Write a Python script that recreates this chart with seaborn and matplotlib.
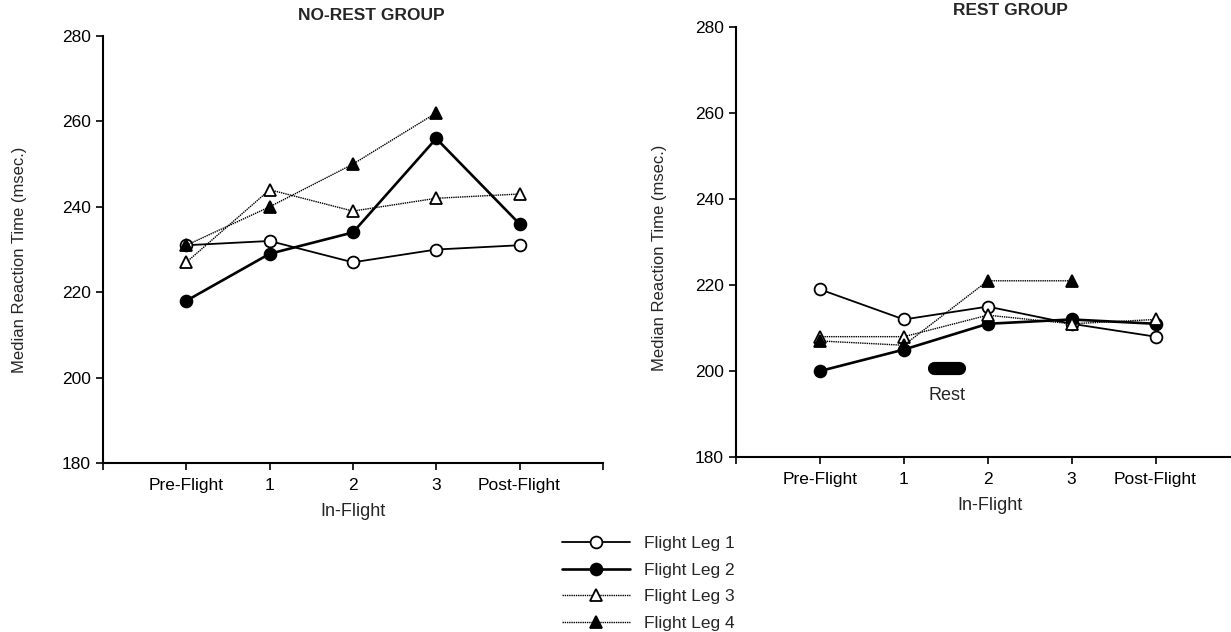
import matplotlib
matplotlib.use("Agg")
import matplotlib.pyplot as plt
import seaborn as sns
import numpy as np
import pandas as pd

# data
phases = ["Pre-Flight", "1", "2", "3", "Post-Flight"]
legs = ["Flight Leg 1", "Flight Leg 2", "Flight Leg 3", "Flight Leg 4"]

no_rest_leg1 = [231, 232, 227, 230, 231]
no_rest_leg2 = [218, 229, 234, 256, 236]
no_rest_leg3 = [227, 244, 239, 242, 243]
no_rest_leg4 = [231, 240, 250, 262, np.nan]

rest_leg1 = [219, 212, 215, 211, 208]
rest_leg2 = [200, 205, 211, 212, 211]
rest_leg3 = [208, 208, 213, 211, 212]
rest_leg4 = [207, 206, 221, 221, np.nan]

rest_period = [1.36, 1.66]
rest_level = 200.6

yticks = [180, 200, 220, 240, 260, 280]


def to_frame(series):
    rows = []
    for leg, vals in zip(legs, series):
        for i, v in enumerate(vals):
            rows.append({"leg": leg, "pos": i, "rt": v})
    return pd.DataFrame(rows)


styles = {
    "Flight Leg 1": dict(marker="o", mfc="white", ls="-", lw=1.3),
    "Flight Leg 2": dict(marker="o", mfc="black", ls="-", lw=1.9),
    "Flight Leg 3": dict(marker="^", mfc="white", ls=(0, (1, 0.6)), lw=1.0),
    "Flight Leg 4": dict(marker="^", mfc="black", ls=(0, (1, 0.6)), lw=1.0),
}

sns.set_style("ticks")
plt.rcParams["font.family"] = ["Liberation Sans", "DejaVu Sans"]

fig = plt.figure(figsize=(12.31, 6.32), dpi=100)
ax1 = fig.add_axes([0.0837, 0.2674, 0.406, 0.6756])
ax2 = fig.add_axes([0.598, 0.2769, 0.402, 0.680])


def draw_panel(ax, df, title, title_xy, ylab_xy, xlab_xy):
    for leg in legs:
        st = styles[leg]
        sub = df[df["leg"] == leg].dropna()
        sns.lineplot(data=sub, x="pos", y="rt", ax=ax, color="black",
                     marker=st["marker"], markerfacecolor=st["mfc"],
                     markeredgecolor="black", markeredgewidth=1.3,
                     markersize=8.5 if st["marker"] == "o" else 8,
                     linestyle=st["ls"], linewidth=st["lw"], label=leg,
                     legend=False)
    ax.set_xlim(-1, 5)
    ax.set_ylim(180, 280)
    ax.set_xticks(range(-1, 6))
    ax.set_xticklabels([""] + phases + [""])
    ax.set_yticks(yticks)
    ax.tick_params(axis="both", direction="out", length=5, width=1.2,
                   labelsize=12.5, colors="black", pad=4)
    ax.tick_params(axis="x", pad=6)
    ax.set_xlabel("In-Flight", fontsize=13)
    ax.set_ylabel("Median Reaction Time (msec.)", fontsize=12)
    ax.xaxis.set_label_coords(*xlab_xy)
    ax.yaxis.set_label_coords(*ylab_xy)
    for s in ["top", "right"]:
        ax.spines[s].set_visible(False)
    for s in ["left", "bottom"]:
        ax.spines[s].set_linewidth(1.5)
        ax.spines[s].set_color("black")
    ax.text(title_xy[0], title_xy[1], title, transform=ax.transAxes,
            ha="center", va="center", fontsize=12.5, fontweight="bold")


draw_panel(ax1, to_frame([no_rest_leg1, no_rest_leg2, no_rest_leg3, no_rest_leg4]),
           "NO-REST GROUP", (0.536, 1.049), (-0.152, 0.475), (0.5, -0.094))
draw_panel(ax2, to_frame([rest_leg1, rest_leg2, rest_leg3, rest_leg4]),
           "REST GROUP", (0.554, 1.04), (-0.14, 0.463), (0.513, -0.093))
ax2.set_xlim(-1, 4.9)

# rest marker
ax2.plot(rest_period, [rest_level, rest_level], color="black", lw=9.5,
         solid_capstyle="round")
ax2.text(np.mean(rest_period), rest_level - 4.3, "Rest", ha="center",
         va="top", fontsize=13)

handles, labels = ax1.get_legend_handles_labels()
fig.legend(handles, labels, loc="upper left", bbox_to_anchor=(562 / 1231, 0.152),
           frameon=False, fontsize=12.5, handlelength=3.9, handletextpad=0.8,
           labelspacing=0.66, borderpad=0, borderaxespad=0)

fig.savefig("out.png", dpi=100)
